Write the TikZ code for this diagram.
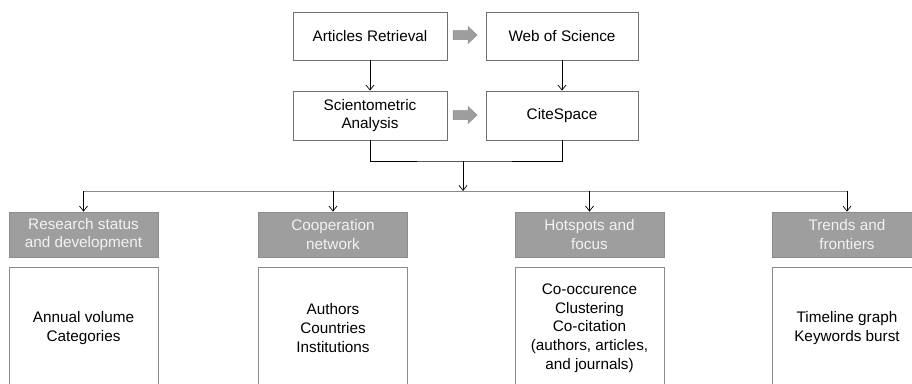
\documentclass[tikz,border=0pt]{standalone}
\usepackage{fontspec}
\setmainfont{Liberation Sans}
\usetikzlibrary{arrows.meta}
\definecolor{hdrfill}{HTML}{9E9E9E}
\definecolor{hdrtext}{HTML}{F2F2F2}
\definecolor{boxline}{HTML}{707070}
\definecolor{lightline}{HTML}{8C8C8C}
\begin{document}
\begin{tikzpicture}[x=1pt,y=-1pt,
  txt/.style={font=\fontsize{15.3}{18.7}\selectfont, align=center, text=black},
  topbox/.style={txt, draw=boxline, line width=0.8pt, fill=white, inner sep=0pt},
  hdrbox/.style={txt, draw=lightline, line width=0.8pt, fill=hdrfill, text=hdrtext, minimum width=149, minimum height=45, inner sep=0pt},
  itembox/.style={txt, draw=lightline, line width=0.8pt, fill=white, minimum width=149, minimum height=122, inner sep=0pt},
  conn/.style={draw=black, line width=0.7pt},
  arr/.style={conn, -{Straight Barb[length=5pt,width=8pt,line width=0.7pt]}},
  blockarrow/.style={fill=hdrfill, draw=lightline, line width=0.5pt}
]
\useasboundingbox (0,0) rectangle (912,383);
\clip (0,0) rectangle (912,383);

% top boxes
\node[topbox, minimum width=154, minimum height=48] (ar) at (370,36) {Articles Retrieval};
\node[topbox, minimum width=152, minimum height=48] (wos) at (562,36) {Web of Science};
\node[topbox, minimum width=154, minimum height=49] (sa) at (370,115.5) {Scientometric\\Analysis};
\node[topbox, minimum width=152, minimum height=49] (cs) at (562,115.5) {CiteSpace};

% block arrows
\filldraw[blockarrow] (453,30.5) -- (468,30.5) -- (468,26.5) -- (477,35) -- (468,43.5) -- (468,39.5) -- (453,39.5) -- cycle;
\filldraw[blockarrow] (453,110.5) -- (468,110.5) -- (468,106.5) -- (477,115) -- (468,123.5) -- (468,119.5) -- (453,119.5) -- cycle;

% vertical arrows
\draw[arr] (ar) -- (sa);
\draw[arr] (wos) -- (cs);

% merge
\coordinate (mj) at (463,161);
\coordinate (bus) at (463,191);
\draw[conn] (sa.south) |- (mj) -| (cs.south);
\draw[arr] (mj) -- (bus);

% headers
\node[hdrbox] (h1) at (83.5,234.5) {Research status\\and development};
\node[hdrbox] (h2) at (333,234.5) {Cooperation\\network};
\node[hdrbox] (h3) at (589.5,234.5) {Hotspots and\\focus};
\node[hdrbox] (h4) at (847,234.5) {Trends and\\frontiers};

% bus line
\draw[draw=lightline, line width=0.8pt] (h1.north |- bus) -- (h4.north |- bus);
\foreach \h in {h1,h2,h3,h4} {
  \draw[arr] (\h.north |- bus) -- (\h.north);
}

% item boxes
\node[itembox] (b1) at (83.5,328) {Annual volume\\Categories};
\node[itembox] (b2) at (333,328) {Authors\\Countries\\Institutions};
\node[itembox] (b3) at (589.5,328) {Co-occurence\\Clustering\\Co-citation\\(authors, articles,\\and journals)};
\node[itembox] (b4) at (847,328) {Timeline graph\\Keywords burst};
\end{tikzpicture}
\end{document}
